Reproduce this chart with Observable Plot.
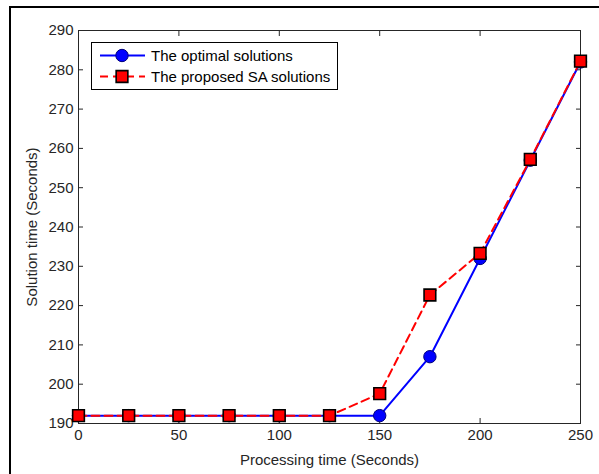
<!DOCTYPE html>
<html>
<head>
<meta charset="utf-8">
<script src="https://cdn.jsdelivr.net/npm/d3@7"></script>
<script src="https://cdn.jsdelivr.net/npm/@observablehq/plot@0.6"></script>
<style>
  html, body { margin: 0; padding: 0; background: #fff; }
  #wrap { position: relative; width: 599px; height: 474px; overflow: hidden; background: #fff; }
  #border { position: absolute; left: 9px; top: 6px; right: -5px; bottom: -5px;
            border-left: 2px solid #000; border-top: 2px solid #000; pointer-events: none; }
  #legend { position: absolute; left: 91px; top: 42px; }
</style>
</head>
<body>
<div id="wrap">
  <div id="chart"></div>
  <div id="border"></div>
  <div id="legend"></div>
</div>
<script>
// ---- data ----
const processingTimes = [0, 25, 50, 75, 100, 125, 150, 175, 200, 225, 250];
const optimalSolutions = [192, 192, 192, 192, 192, 192, 192, 207, 232, 257, 282];
const proposedSASolutions = [192, 192, 192, 192, 192, 192, 197.6, 222.7, 233.3, 257.2, 282.2];
const xTickValues = [0, 50, 100, 150, 200, 250];
const yTickValues = [190, 200, 210, 220, 230, 240, 250, 260, 270, 280, 290];
const seriesNames = ["The optimal solutions", "The proposed SA solutions"];
const xLabel = "Processing time (Seconds)";
const yLabel = "Solution time (Seconds)";

const table = processingTimes.map((x, i) => ({x, optimal: optimalSolutions[i], proposed: proposedSASolutions[i]}));

const BLUE = "#0000ff";
const RED = "#ff0000";
const AXIS = "#262626";
const FONT = "'Liberation Sans', Arial, Helvetica, sans-serif";

const chart = Plot.plot({
  width: 599,
  height: 474,
  marginLeft: 78,
  marginRight: 19,
  marginTop: 30,
  marginBottom: 51,
  style: {fontFamily: FONT, fontSize: "15px", background: "transparent", color: AXIS},
  x: {domain: [0, 250]},
  y: {domain: [190, 290]},
  marks: [
    Plot.frame({stroke: AXIS, strokeWidth: 1}),
    // labels
    Plot.axisX(xTickValues, {anchor: "bottom", tickSize: 0, tickPadding: 6, fill: AXIS,
      label: xLabel, labelAnchor: "center", labelArrow: "none", labelOffset: 41}),
    Plot.axisY(yTickValues, {anchor: "left", tickSize: 0, tickPadding: 5, fill: AXIS,
      label: yLabel, labelAnchor: "center", labelArrow: "none", labelOffset: 52}),
    // inward ticks on all four sides
    Plot.axisX(xTickValues, {anchor: "bottom", tickSize: -5, tickFormat: () => "", label: null, stroke: AXIS}),
    Plot.axisX(xTickValues, {anchor: "top", tickSize: -5, tickFormat: () => "", label: null, stroke: AXIS}),
    Plot.axisY(yTickValues, {anchor: "left", tickSize: -5, tickFormat: () => "", label: null, stroke: AXIS}),
    Plot.axisY(yTickValues, {anchor: "right", tickSize: -5, tickFormat: () => "", label: null, stroke: AXIS}),
    // optimal series
    Plot.line(table, {x: "x", y: "optimal", stroke: BLUE, strokeWidth: 2}),
    Plot.dot(table, {x: "x", y: "optimal", r: 6.2, fill: BLUE, stroke: "#00007a", strokeWidth: 1}),
    // proposed SA series
    Plot.line(table, {x: "x", y: "proposed", stroke: RED, strokeWidth: 2, strokeDasharray: "8,5"}),
    Plot.dot(table, {x: "x", y: "proposed", symbol: "square", r: 6.6, fill: RED, stroke: "#000", strokeWidth: 1.6})
  ]
});
document.getElementById("chart").appendChild(chart);

// ---- legend (inside the axes, upper left) ----
const legendSvg = d3.create("svg")
  .attr("width", 247).attr("height", 48)
  .style("font-family", FONT).style("font-size", "15px").style("display", "block");
legendSvg.append("rect").attr("x", 0.5).attr("y", 0.5).attr("width", 246).attr("height", 47)
  .attr("fill", "#fff").attr("stroke", "#000").attr("stroke-width", 1);
const rows = [
  {name: seriesNames[0], color: BLUE, dash: null, symbol: d3.symbolCircle, size: Math.PI * 6.2 * 6.2, stroke: "#00007a", sw: 1, cy: 13.5},
  {name: seriesNames[1], color: RED, dash: "8,5", symbol: d3.symbolSquare, size: Math.PI * 6.6 * 6.6, stroke: "#000", sw: 1.6, cy: 34.5}
];
for (const r of rows) {
  legendSvg.append("line").attr("x1", 9).attr("x2", 54).attr("y1", r.cy).attr("y2", r.cy)
    .attr("stroke", r.color).attr("stroke-width", 2).attr("stroke-dasharray", r.dash);
  legendSvg.append("path").attr("d", d3.symbol(r.symbol, r.size)())
    .attr("transform", `translate(31,${r.cy})`)
    .attr("fill", r.color).attr("stroke", r.stroke).attr("stroke-width", r.sw);
  legendSvg.append("text").attr("x", 60).attr("y", r.cy).attr("dy", "0.35em")
    .attr("fill", "#000").text(r.name);
}
document.getElementById("legend").appendChild(legendSvg.node());
</script>
</body>
</html>
